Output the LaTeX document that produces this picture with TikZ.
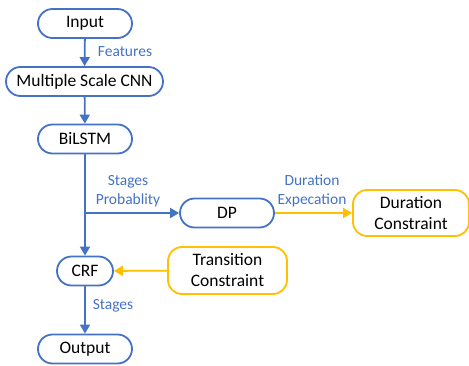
\documentclass[tikz,border=0pt]{standalone}
\usepackage{fontspec}
\setmainfont{Carlito}
\usetikzlibrary{arrows.meta,positioning}
\definecolor{cblue}{HTML}{4472C4}
\definecolor{corange}{HTML}{FFC000}
\begin{document}
\begin{tikzpicture}[x=1pt,y=-1pt,
  pill/.style={draw=cblue,line width=1.8pt,rounded corners=14.5pt,minimum height=29pt,inner sep=0pt,font=\fontsize{17.5}{21}\selectfont,fill=white},
  obox/.style={draw=corange,line width=1.8pt,rounded corners=14pt,inner sep=0pt,align=center,font=\fontsize{17.5}{21}\selectfont,fill=white},
  barrow/.style={draw=cblue,line width=1.8pt,-{Triangle[length=9pt,width=10pt]}},
  oarrow/.style={draw=corange,line width=1.8pt,-{Triangle[length=9pt,width=10pt]}},
  lbl/.style={text=cblue,font=\fontsize{15.5}{19}\selectfont,align=center,inner sep=0pt}]
\useasboundingbox (0,0) rectangle (469,366);
\node[pill,minimum width=94pt] (input) at (85,23.5) {Input};
\node[pill,minimum width=157pt] (cnn) at (84.5,81.5) {Multiple Scale CNN};
\node[pill,minimum width=94pt] (bilstm) at (85,139) {BiLSTM};
\node[pill,minimum width=94pt] (dp) at (227,213) {DP};
\node[pill,minimum width=56pt] (crf) at (85,271) {CRF};
\node[pill,minimum width=94pt] (output) at (85,349) {Output};
\node[obox,minimum width=116pt,minimum height=46pt] (dc) at (411,213) {Duration\\Constraint};
\node[obox,minimum width=119pt,minimum height=47pt] (tc) at (227.5,270.5) {Transition\\Constraint};
\coordinate (br) at (85,213);
\draw[barrow] (input) -- (cnn);
\draw[barrow] (cnn) -- (bilstm);
\draw[barrow] (bilstm) -- (crf);
\draw[barrow] (br) -- (dp);
\draw[barrow] (crf) -- (output);
\draw[oarrow] (dp) -- (dc);
\draw[oarrow] (tc) -- (crf);
\node[lbl] (lf) at (125,52) {Features};
\node[lbl] (lsp) at (128,191) {Stages\\Probablity};
\node[lbl] (lde) at (312,191) {Duration\\Expecation};
\node[lbl] (ls) at (113,306) {Stages};
\end{tikzpicture}
\end{document}
